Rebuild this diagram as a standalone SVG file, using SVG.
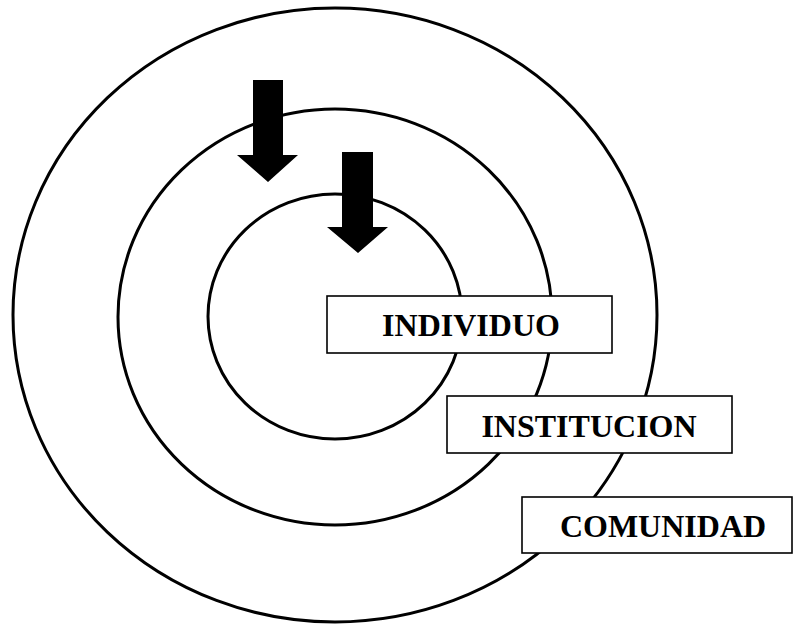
<svg xmlns="http://www.w3.org/2000/svg" width="793" height="625" viewBox="0 0 793 625">
  <style>
    .ring { fill: none; stroke: #000; stroke-width: 3; }
    .box { fill: #fff; stroke: #000; stroke-width: 1.6; }
    .label { font-family: "Liberation Serif", "Times New Roman", serif; font-weight: bold; font-size: 32px; fill: #000; text-anchor: middle; }
    .arrow { fill: #000; stroke: none; }
  </style>
  <rect width="793" height="625" fill="#fff"/>

  <!-- concentric rings -->
  <g id="ring-comunidad"><ellipse class="ring" cx="335" cy="315" rx="322" ry="307"/></g>
  <g id="ring-institucion"><ellipse class="ring" cx="335" cy="317" rx="217" ry="208"/></g>
  <g id="ring-individuo"><ellipse class="ring" cx="335" cy="316.5" rx="127" ry="122.5"/></g>

  <!-- inward block arrows -->
  <g id="connectors">
    <polygon class="arrow" points="253,80 283,80 283,155 298,155 268,182 237,155 253,155"/>
    <polygon class="arrow" points="342,152 373,152 373,227 388,227 358,253 327,227 342,227"/>
  </g>

  <!-- labels -->
  <g id="individuo">
    <rect class="box" x="327" y="296" width="285" height="57"/>
    <text class="label" x="471" y="336">INDIVIDUO</text>
  </g>
  <g id="institucion">
    <rect class="box" x="447" y="396" width="285" height="57"/>
    <text class="label" x="589" y="437">INSTITUCION</text>
  </g>
  <g id="comunidad">
    <rect class="box" x="522" y="497" width="270" height="56"/>
    <text class="label" x="663" y="537">COMUNIDAD</text>
  </g>
</svg>
